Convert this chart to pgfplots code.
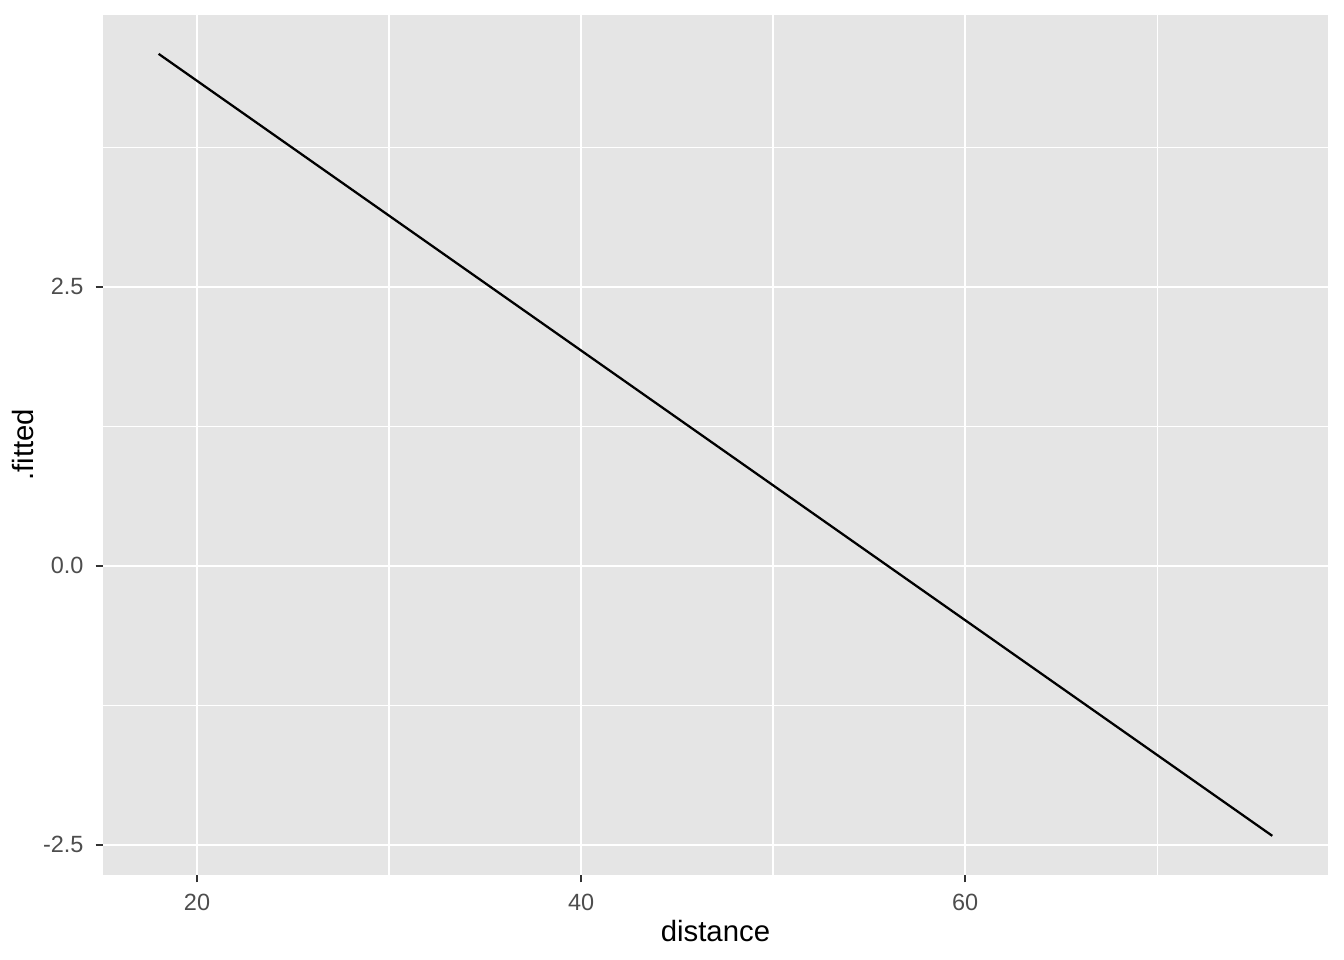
\documentclass[border=0pt]{standalone}
\usepackage{pgfplots}
\pgfplotsset{compat=1.18}
\usetikzlibrary{calc}
\usepackage{fontspec}
\setmainfont{Liberation Sans}
\definecolor{panelbg}{HTML}{E5E5E5}
\definecolor{gray30}{HTML}{4D4D4D}
\definecolor{gray20}{HTML}{333333}
\begin{document}
\begin{tikzpicture}
\begin{axis}[
  scale only axis,
  width=459.4pt, height=322.5pt,
  xmin=15.1, xmax=78.9,
  ymin=-2.769, ymax=4.937,
  axis background/.style={fill=panelbg},
  axis line style={draw=none},
  xtick={20,40,60}, xticklabels={20,40,60},
  ytick={-2.5,0,2.5}, yticklabels={-2.5,0.0,2.5},
  minor xtick={30,50,70}, minor ytick={-1.25,1.25,3.75},
  grid=both,
  major grid style={white, line width=0.9pt},
  minor grid style={white, line width=0.45pt},
  tick align=outside,
  major tick length=2.75pt, minor tick length=0pt,
  xtick pos=bottom, ytick pos=left,
  tick style={gray20, line width=0.9pt},
  ticklabel style={font=\fontsize{8.8}{10}\selectfont, text=gray30},
  /pgf/number format/assume math mode=true,
  xticklabel style={yshift=-1pt},
  yticklabel style={xshift=-1pt},
  xlabel={distance}, ylabel={.fitted},
  label style={font=\fontsize{11}{13}\selectfont},
  xlabel style={at={(axis description cs:0.5,0)}, anchor=base, yshift=-24.8pt},
  ylabel style={at={(axis description cs:0,0.5)}, anchor=base, rotate=0, yshift=26pt},
]
\addplot[black, line width=0.85pt] coordinates {(18,4.588) (76,-2.419)};
\end{axis}
\pgfresetboundingbox
\useasboundingbox ($(current axis.south west)+(-38.6pt,-31.9pt)$) rectangle ($(current axis.north east)+(6pt,5.6pt)$);
\end{tikzpicture}
\end{document}
